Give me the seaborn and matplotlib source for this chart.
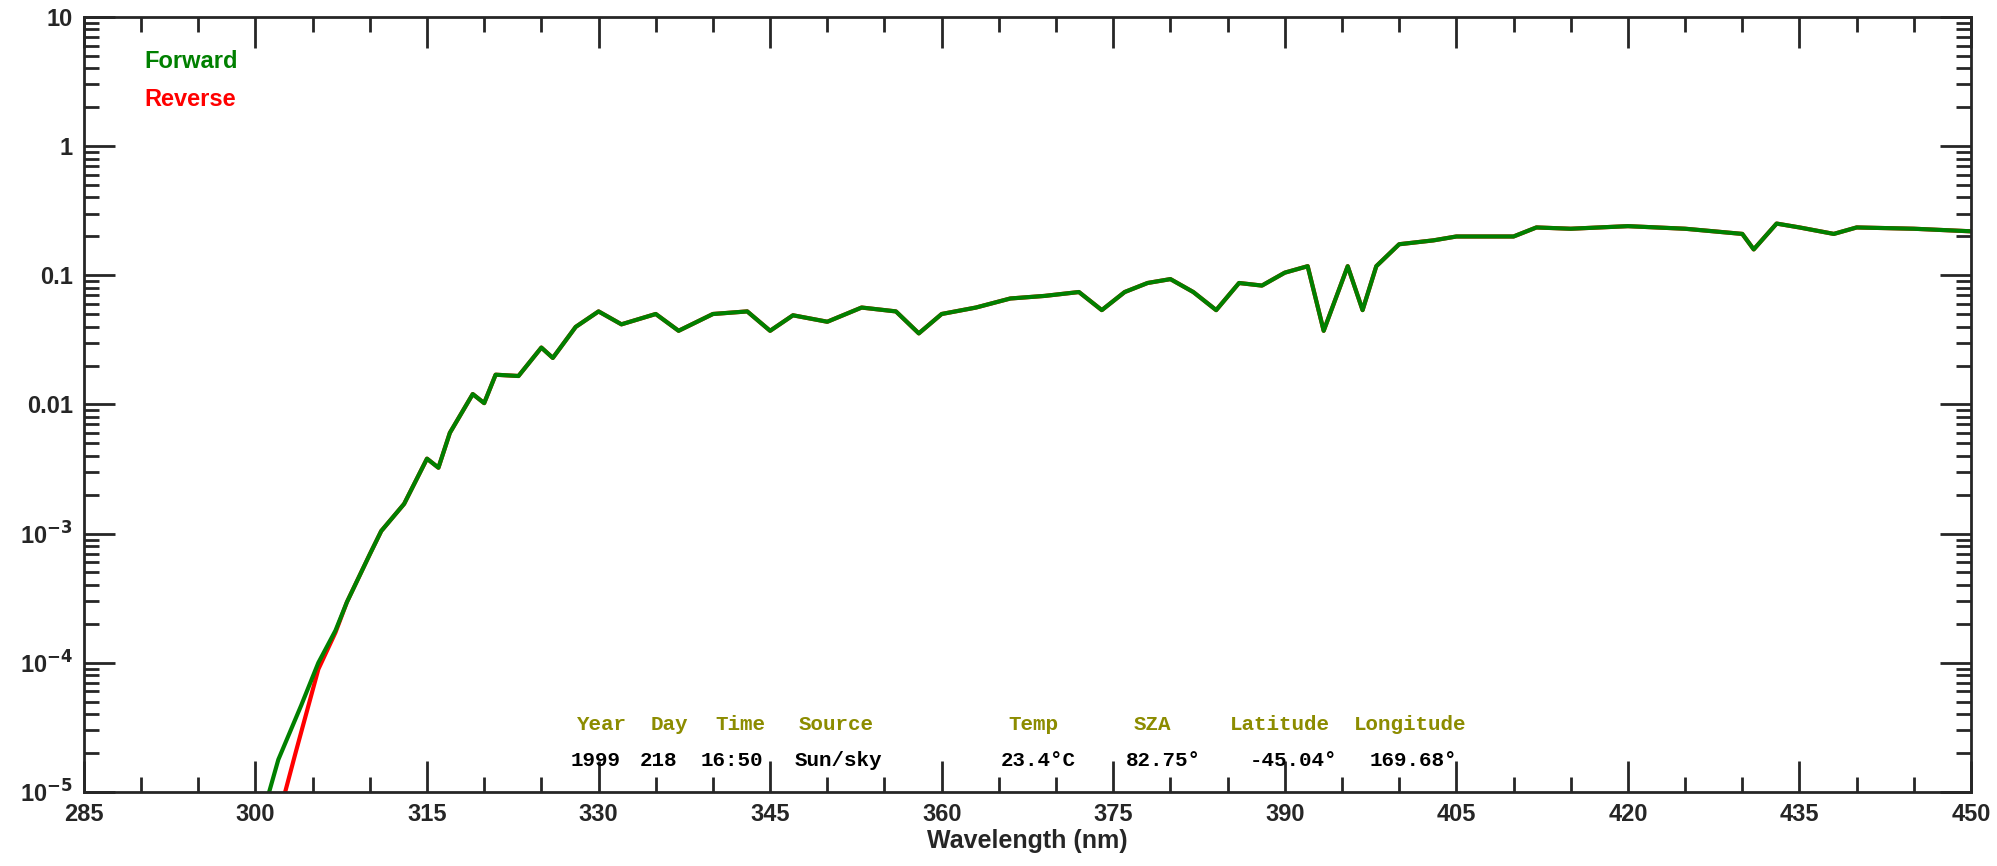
import numpy as np
import matplotlib
matplotlib.use("Agg")
import matplotlib.pyplot as plt
import seaborn as sns
from matplotlib.ticker import MultipleLocator, LogLocator, FixedLocator, NullFormatter

# values (log10 of irradiance)
fwd_wl = [301.2, 302, 304, 305.5, 307, 308, 310, 311, 313, 315, 316, 317, 319, 320, 321,
          323, 325, 326, 328, 330, 332, 335, 337, 340, 343, 345, 347, 350, 353, 356,
          358, 360, 363, 366, 369, 372, 374, 376, 378, 380, 382, 384, 386, 388, 390,
          392, 393.4, 395.5, 396.8, 398, 400, 403, 405, 410, 412, 415, 420, 425, 430,
          431, 433, 435, 438, 440, 445, 450]
fwd_log = [-5.0, -4.75, -4.33, -4.0, -3.75, -3.53, -3.16, -2.98, -2.77, -2.42, -2.49, -2.22, -1.92, -1.99, -1.77,
           -1.78, -1.56, -1.64, -1.40, -1.28, -1.38, -1.30, -1.43, -1.30, -1.28, -1.43, -1.31, -1.36, -1.25, -1.28,
           -1.45, -1.30, -1.25, -1.18, -1.16, -1.13, -1.27, -1.13, -1.06, -1.03, -1.13, -1.27, -1.06, -1.08, -0.98,
           -0.93, -1.43, -0.93, -1.27, -0.93, -0.76, -0.73, -0.70, -0.70, -0.63, -0.64, -0.62, -0.64, -0.68,
           -0.80, -0.60, -0.63, -0.68, -0.63, -0.64, -0.66]
rev_wl = [302.6, 303.5, 305.5, 307] + fwd_wl[4:]
rev_log = [-5.0, -4.7, -4.05, -3.78] + fwd_log[4:]

hdr_words = ["Year", "Day", "Time", "Source", "Temp", "SZA", "Latitude", "Longitude"]
hdr_x = [577, 651, 715, 799, 1008, 1134, 1230, 1354]
val_words = ["1999", "218", "16:50", "Sun/sky", "23.4°C", "82.75°", "-45.04°", "169.68°"]
val_x = [571, 640, 701, 795, 1001, 1126, 1250, 1370]

sns.set_style("ticks")
plt.rcParams["font.family"] = ["Liberation Sans", "DejaVu Sans"]
plt.rcParams["font.weight"] = "bold"

fig = plt.figure(figsize=(19.97, 8.66), dpi=100)
ax = fig.add_axes([0.042, 0.0855, 0.945, 0.895])

sns.lineplot(x=rev_wl, y=10 ** np.array(rev_log), ax=ax, color="#ff0000", linewidth=3)
sns.lineplot(x=fwd_wl, y=10 ** np.array(fwd_log), ax=ax, color="#008000", linewidth=3)

ax.set_yscale("log")
ax.set_xlim(285, 450)
ax.set_ylim(1e-5, 10)
ax.xaxis.set_major_locator(MultipleLocator(15))
ax.xaxis.set_minor_locator(MultipleLocator(5))
ax.yaxis.set_major_locator(FixedLocator([1e-5, 1e-4, 1e-3, 1e-2, 1e-1, 1, 10]))
ax.yaxis.set_minor_locator(LogLocator(base=10, subs=np.arange(2, 10), numticks=20))
ax.yaxis.set_minor_formatter(NullFormatter())
ax.set_yticklabels([r"10$^{-5}$", r"10$^{-4}$", r"10$^{-3}$", "0.01", "0.1", "1", "10"])
ax.tick_params(which="both", direction="in", top=True, right=True, width=2)
ax.tick_params(which="major", length=22, labelsize=17, pad=8)
ax.tick_params(which="minor", length=11)
for s in ax.spines.values():
    s.set_linewidth(2)
ax.set_xlabel("Wavelength (nm)", fontsize=18, fontweight="bold", labelpad=2)

fig.text(144 / 1997, 1 - 62 / 866, "Forward", color="#008000", fontsize=17, fontweight="bold", va="center")
fig.text(144 / 1997, 1 - 100 / 866, "Reverse", color="#ff0000", fontsize=17, fontweight="bold", va="center")

for w, x in zip(hdr_words, hdr_x):
    fig.text(x / 1997, 1 - 725 / 866, w, color="#8c8c00", fontsize=15, fontweight="bold",
             family="Liberation Mono", va="center")
for w, x in zip(val_words, val_x):
    fig.text(x / 1997, 1 - 760 / 866, w, color="black", fontsize=15, fontweight="bold",
             family="Liberation Mono", va="center")

fig.savefig("out.png", dpi=100)
